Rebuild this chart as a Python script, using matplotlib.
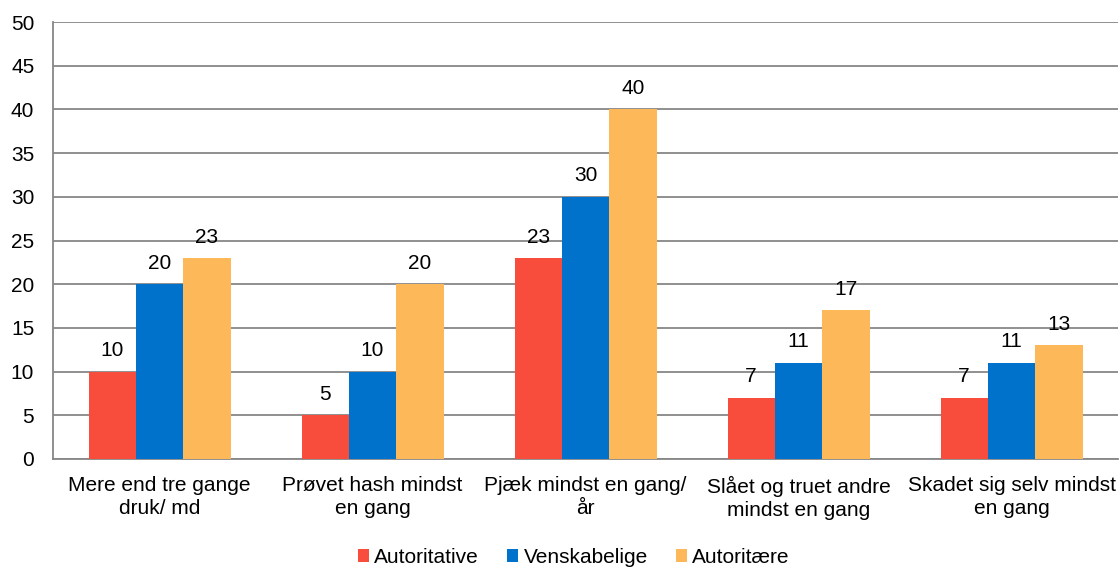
import numpy as np
import matplotlib.pyplot as plt

plt.rcParams['font.family'] = ['Liberation Sans', 'DejaVu Sans']

categories = ["Mere end tre gange\ndruk/ md", "Prøvet hash mindst\nen gang",
              "Pjæk mindst en gang/\når", "Slået og truet andre\nmindst en gang",
              "Skadet sig selv mindst\nen gang"]
autoritative = [10, 5, 23, 7, 7]
venskabelige = [20, 10, 30, 11, 11]
autoritaere = [23, 20, 40, 17, 13]

series = [("Autoritative", autoritative, "#F84C3C"),
          ("Venskabelige", venskabelige, "#0072CC"),
          ("Autoritære", autoritaere, "#FDB85A")]

fs = 15

fig = plt.figure(figsize=(11.2, 5.67), dpi=100)
ax = fig.add_axes([53/1120, 1-459/567, 1065/1120, 437/567])

x = np.arange(len(categories))
w = 2/9
for i, (name, vals, col) in enumerate(series):
    pos = x + (i - 1) * w
    bars = ax.bar(pos, vals, w, color=col, label=name, zorder=3)
    for b, v in zip(bars, vals):
        ax.text(b.get_x() + b.get_width()/2, v + 1.3, str(v), ha='center', va='bottom',
                fontsize=fs, color='#000000')

ax.set_xlim(-0.5, len(categories) - 0.5)
ax.set_ylim(0, 50)
ax.set_yticks(range(0, 51, 5))
ax.yaxis.grid(True, color='#878787', linewidth=1.3, zorder=0)
ax.set_xticks(x)
ax.set_xticklabels(categories, fontsize=fs, linespacing=1.3)
ax.tick_params(axis='both', length=0, labelsize=fs)
ax.tick_params(axis='x', pad=12)
ax.tick_params(axis='y', pad=13.5)
for s in ['top', 'right']:
    ax.spines[s].set_visible(False)
for s in ['left', 'bottom']:
    ax.spines[s].set_color('#878787')
    ax.spines[s].set_linewidth(1.3)

ax.legend(loc='lower center', bbox_to_anchor=(0.489, -0.29), ncol=3, frameon=False,
          fontsize=fs, handlelength=0.53, handleheight=0.53, handletextpad=0.25,
          columnspacing=1.35)

fig.savefig("out.png", dpi=100)
